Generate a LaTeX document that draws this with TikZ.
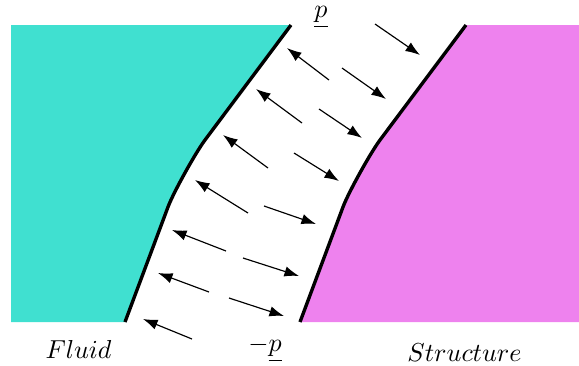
\documentclass[tikz,border=0pt]{standalone}
\usetikzlibrary{arrows.meta}
\definecolor{fluidc}{HTML}{40E0D0}
\definecolor{structc}{HTML}{EE82EE}
\begin{document}
\begin{tikzpicture}[x=0.385pt,y=-0.385pt,
  iface/.style={line width=1.3pt,line join=round},
  parrow/.style={line width=0.45pt,-{Latex[length=5.6pt,width=4pt]}},
  lbl/.style={inner sep=0pt,font=\normalsize}]
\useasboundingbox (0,0) rectangle (579,365);
% fluid region
\fill[fluidc] (11,25) -- (291,25) -- (205,140) .. controls (196,152) and (173.6,192) .. (168,207) -- (125,322) -- (11,322) -- cycle;
% structure region
\fill[structc] (466,25) -- (579,25) -- (579,322) -- (300,322) -- (343,207) .. controls (348.6,192) and (371,152) .. (380,140) -- cycle;
% interfaces
\draw[iface] (291,25) -- (205,140) .. controls (196,152) and (173.6,192) .. (168,207) -- (125,322);
\draw[iface] (466,25) -- (380,140) .. controls (371,152) and (348.6,192) .. (343,207) -- (300,322);
% arrows toward structure
\draw[parrow] (375,24) -- (420,55);
\draw[parrow] (342,68) -- (386,99);
\draw[parrow] (319,109) -- (362,138);
\draw[parrow] (294,153) -- (339,181);
\draw[parrow] (264,206) -- (316,224);
\draw[parrow] (243,258) -- (299,276);
\draw[parrow] (229,298) -- (284,316);
% arrows toward fluid
\draw[parrow] (329,80) -- (287,48);
\draw[parrow] (302,123) -- (256,89);
\draw[parrow] (268,168) -- (223,135);
\draw[parrow] (248,213) -- (195,180);
\draw[parrow] (226,251) -- (172,230);
\draw[parrow] (209,292) -- (158,273);
\draw[parrow] (192,339) -- (143,319);
% labels
\node[lbl] (ptop) at (321,17.5) {$\underline{p}$};
\node[lbl] (pbot) at (265,349) {$-\underline{p}$};
\node[lbl] (fl) at (78.5,349) {$Fluid$};
\node[lbl] (st) at (464.5,353) {$Structure$};
\end{tikzpicture}
\end{document}
